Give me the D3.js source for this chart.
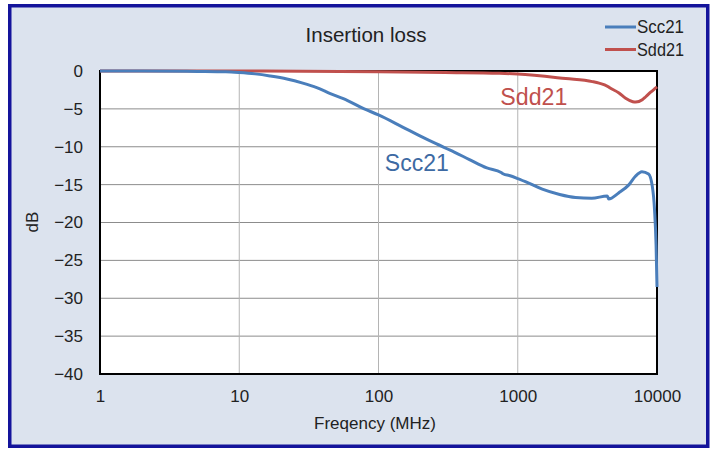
<!DOCTYPE html>
<html>
<head>
<meta charset="utf-8">
<script src="https://cdn.jsdelivr.net/npm/d3@7"></script>
<style>
  html, body { margin: 0; padding: 0; background: #ffffff; }
  svg { display: block; font-family: "Liberation Sans", Arial, sans-serif; }
</style>
</head>
<body>
<svg id="chart" width="717" height="450"></svg>
<script>
// ---- data ----
const chartTitle = "Insertion loss";
const xTickValues = [1, 10, 100, 1000, 10000];
const yTickValues = [0, -5, -10, -15, -20, -25, -30, -35, -40];
const seriesNames = ["Scc21", "Sdd21"];

const sccFreq = [1, 2, 5, 8, 10, 13, 16.6, 22, 28.6, 36, 44.6, 60, 79, 100, 149, 200, 259, 350, 450, 600, 760, 790, 869, 1000, 1200, 1500, 2000, 2600, 3400, 4400, 4500, 5300, 6300, 7000, 7800, 8700, 9250, 9600, 9850, 10000];
const sccDb   = [0, 0, -0.05, -0.1, -0.2, -0.38, -0.65, -1.05, -1.6, -2.2, -2.95, -3.9, -5.0, -5.8, -7.4, -8.6, -9.6, -10.7, -11.7, -12.8, -13.4, -13.6, -13.8, -14.2, -14.8, -15.6, -16.3, -16.7, -16.8, -16.5, -16.9, -16.1, -15.0, -13.9, -13.3, -13.6, -15.2, -18.3, -23, -28.5];

const sddFreq = [1, 10, 100, 300, 738, 1000, 2213, 3437, 3837, 4400, 4520, 5335, 5950, 6700, 7030, 7840, 8300, 9000, 9700, 10000];
const sddDb   = [0, 0, -0.1, -0.2, -0.3, -0.4, -1.0, -1.4, -1.6, -2.0, -2.15, -2.9, -3.6, -4.05, -4.1, -3.8, -3.4, -2.8, -2.3, -2.1];

// ---- layout ----
const W = 717, H = 450;
const plot = { left: 100, right: 657, top: 71, bottom: 374 };
const colors = { Scc21: "#4a7ebb", Sdd21: "#c0504d" };

const svg = d3.select("#chart");

// panel
svg.append("rect")
  .attr("x", 9.75).attr("y", 5.75)
  .attr("width", 698).attr("height", 440.5)
  .attr("fill", "#dce3ee")
  .attr("stroke", "#14149b")
  .attr("stroke-width", 3.5);

const x = d3.scaleLog().domain([1, 10000]).range([plot.left, plot.right]);
const y = d3.scaleLinear().domain([-40, 0]).range([plot.bottom, plot.top]);

// plot background
svg.append("rect")
  .attr("x", plot.left).attr("y", plot.top)
  .attr("width", plot.right - plot.left).attr("height", plot.bottom - plot.top)
  .attr("fill", "#ffffff");

// gridlines
const grid = svg.append("g");
grid.selectAll("line.h").data(yTickValues.filter(v => v !== 0 && v !== -40)).enter()
  .append("line")
  .attr("x1", plot.left).attr("x2", plot.right)
  .attr("y1", d => y(d)).attr("y2", d => y(d))
  .attr("stroke", "#8c8c8c").attr("stroke-width", 1);
grid.selectAll("line.v").data(xTickValues.filter(v => v !== 1 && v !== 10000)).enter()
  .append("line")
  .attr("x1", d => x(d)).attr("x2", d => x(d))
  .attr("y1", plot.top).attr("y2", plot.bottom)
  .attr("stroke", "#b4b4b4").attr("stroke-width", 1);

// axes (labels only)
const xAxis = d3.axisBottom(x).tickValues(xTickValues).tickFormat(d3.format("d")).tickSize(0).tickPadding(16);
const gx = svg.append("g").attr("transform", `translate(0,${plot.bottom})`).call(xAxis);
gx.select(".domain").remove();
gx.selectAll("text").attr("font-size", 17).attr("fill", "#222").attr("font-family", "Liberation Sans, Arial, sans-serif");

const yAxis = d3.axisLeft(y).tickValues(yTickValues).tickFormat(d3.format("d")).tickSize(0).tickPadding(17);
const gy = svg.append("g").attr("transform", `translate(${plot.left},0)`).call(yAxis);
gy.select(".domain").remove();
gy.selectAll("text").attr("font-size", 17).attr("fill", "#222").attr("font-family", "Liberation Sans, Arial, sans-serif");

// plot border
svg.append("rect")
  .attr("x", plot.left).attr("y", plot.top)
  .attr("width", plot.right - plot.left).attr("height", plot.bottom - plot.top)
  .attr("fill", "none").attr("stroke", "#000").attr("stroke-width", 2);

// lines
const line = d3.line().x(d => x(d[0])).y(d => y(d[1])).curve(d3.curveMonotoneX);
const sddData = sddFreq.map((f, i) => [f, sddDb[i]]);
const sccData = sccFreq.map((f, i) => [f, sccDb[i]]);

svg.append("path").datum(sddData)
  .attr("d", line).attr("fill", "none")
  .attr("stroke", colors.Sdd21).attr("stroke-width", 3);
svg.append("path").datum(sccData)
  .attr("d", line).attr("fill", "none")
  .attr("stroke", colors.Scc21).attr("stroke-width", 3);

// title
svg.append("text")
  .attr("x", 366).attr("y", 42)
  .attr("text-anchor", "middle")
  .attr("font-size", 21).attr("fill", "#222")
  .attr("textLength", 121).attr("lengthAdjust", "spacingAndGlyphs")
  .text(chartTitle);

// legend
const legend = svg.append("g");
seriesNames.forEach((name, i) => {
  const ly = 27 + i * 22.5;
  legend.append("line")
    .attr("x1", 605).attr("x2", 636)
    .attr("y1", ly).attr("y2", ly)
    .attr("stroke", colors[name]).attr("stroke-width", 3);
  legend.append("text")
    .attr("x", 637).attr("y", ly + 6)
    .attr("font-size", 17.5).attr("fill", "#222")
    .attr("textLength", 47).attr("lengthAdjust", "spacingAndGlyphs")
    .text(name);
});

// in-plot labels
svg.append("text")
  .attr("x", x(750)).attr("y", y(-4.5))
  .attr("font-size", 23).attr("fill", "#c0504d")
  .attr("textLength", 67).attr("lengthAdjust", "spacingAndGlyphs")
  .text("Sdd21");
svg.append("text")
  .attr("x", x(111)).attr("y", y(-13.2))
  .attr("font-size", 23).attr("fill", "#3d6aa3")
  .attr("textLength", 64).attr("lengthAdjust", "spacingAndGlyphs")
  .text("Scc21");

// axis titles
svg.append("text")
  .attr("x", 375).attr("y", 429)
  .attr("text-anchor", "middle")
  .attr("font-size", 17).attr("fill", "#222")
  .text("Freqency (MHz)");
svg.append("text")
  .attr("transform", "translate(38,222) rotate(-90)")
  .attr("text-anchor", "middle")
  .attr("font-size", 17).attr("fill", "#222")
  .text("dB");
</script>
</body>
</html>
